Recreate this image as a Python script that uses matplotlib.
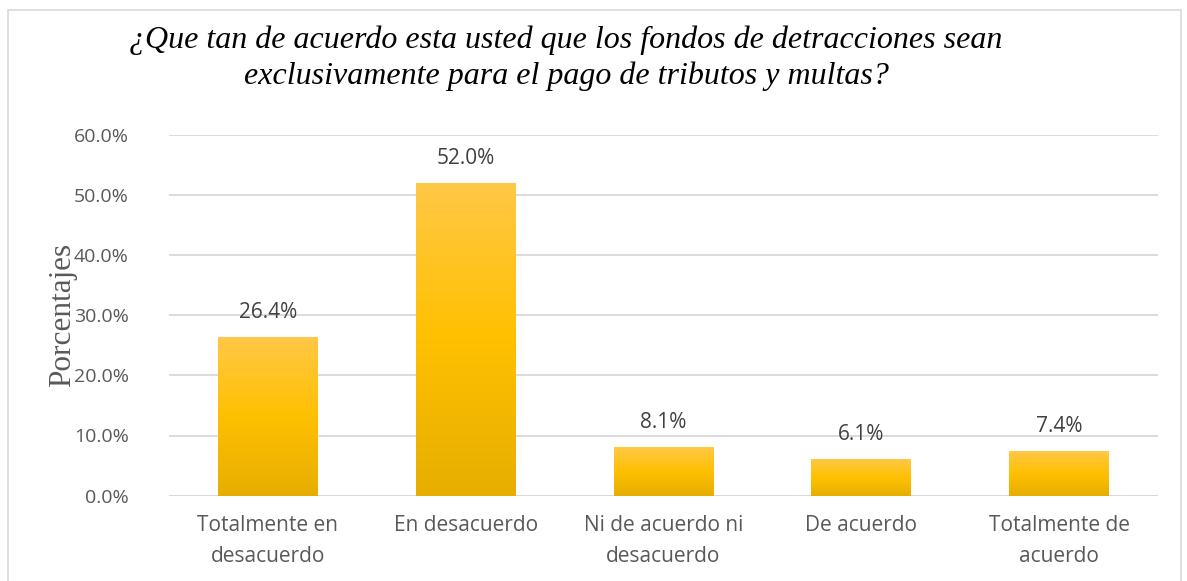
import numpy as np
import matplotlib
matplotlib.use("Agg")
import matplotlib.pyplot as plt
import matplotlib.patheffects as pe
from matplotlib.colors import LinearSegmentedColormap
from matplotlib.patches import Rectangle
from matplotlib.ticker import FuncFormatter, MultipleLocator

plt.rcParams.update({
    "font.family": ["Open Sans", "DejaVu Sans"],
    "font.size": 14,
})

categorias = ["Totalmente en\ndesacuerdo", "En desacuerdo", "Ni de acuerdo ni\ndesacuerdo",
              "De acuerdo", "Totalmente de\nacuerdo"]
porcentajes = [26.4, 52.0, 8.1, 6.1, 7.4]
titulo = ("¿Que tan de acuerdo esta usted que los fondos de detracciones sean\n"
          "exclusivamente para el pago de tributos y multas?")

W, H = 1187, 581
fig = plt.figure(figsize=(W / 100, H / 100), dpi=100)
ax = fig.add_axes([169 / W, 1 - 495.7 / H, (1158 - 169) / W, (495.7 - 134.5) / H])

# marco del grafico
fig.patches.append(Rectangle((8 / W, -0.05), (1181 - 8) / W, 1.05 - 10 / H,
                             transform=fig.transFigure, fill=False,
                             edgecolor="#D9D9D9", lw=1.2))

# degradado dorado de cada barra
cmap = LinearSegmentedColormap.from_list(
    "oro", [(0, "#E6AE00"), (0.5, "#FFC000"), (1, "#FFC847")])
grad = np.linspace(0, 1, 256).reshape(-1, 1)

x = np.arange(len(categorias))
bars = ax.bar(x, porcentajes, width=0.505, color="#FFC000", zorder=3,
              path_effects=[pe.SimplePatchShadow(offset=(0, -1.5), shadow_rgbFace="#7F7F7F",
                                                 alpha=0.35), pe.Normal()])
for b in bars:
    x0, w, h = b.get_x(), b.get_width(), b.get_height()
    im = ax.imshow(grad, cmap=cmap, origin="lower", aspect="auto",
                   extent=(x0, x0 + w, 0, h), zorder=4)
    im.set_clip_path(b)

for xi, v in zip(x, porcentajes):
    ax.annotate(f"{v:.1f}%", (xi, v), xytext=(0, 10), textcoords="offset points",
                ha="center", va="bottom", fontsize=15, color="#404040")

ax.set_xlim(-0.5, len(categorias) - 0.5)
ax.set_ylim(0, 60)
ax.yaxis.set_major_locator(MultipleLocator(10))
ax.yaxis.set_major_formatter(FuncFormatter(lambda v, p: f"{v:.1f}%"))
ax.set_xticks(x)
ax.set_xticklabels(categorias, color="#595959", fontsize=15, linespacing=1.6)
ax.tick_params(axis="y", colors="#595959", labelsize=14, length=0, pad=29)
ax.tick_params(axis="x", length=0, pad=14)
ax.grid(axis="y", color="#D9D9D9", lw=1.3, zorder=0)
for s in ax.spines.values():
    s.set_visible(False)
ax.axhline(0, color="#D9D9D9", lw=1.3, zorder=1)

fig.text(63 / W, 1 - 315 / H, "Porcentajes", rotation=90, ha="center", va="center",
         family="Liberation Serif", fontsize=22.5, color="#595959")

fig.text(566 / W, 1 - 58 / H, titulo, ha="center", va="center", family="Liberation Serif",
         style="italic", fontsize=23, color="#000000", linespacing=1.3)

fig.savefig("out.png", dpi=100)
